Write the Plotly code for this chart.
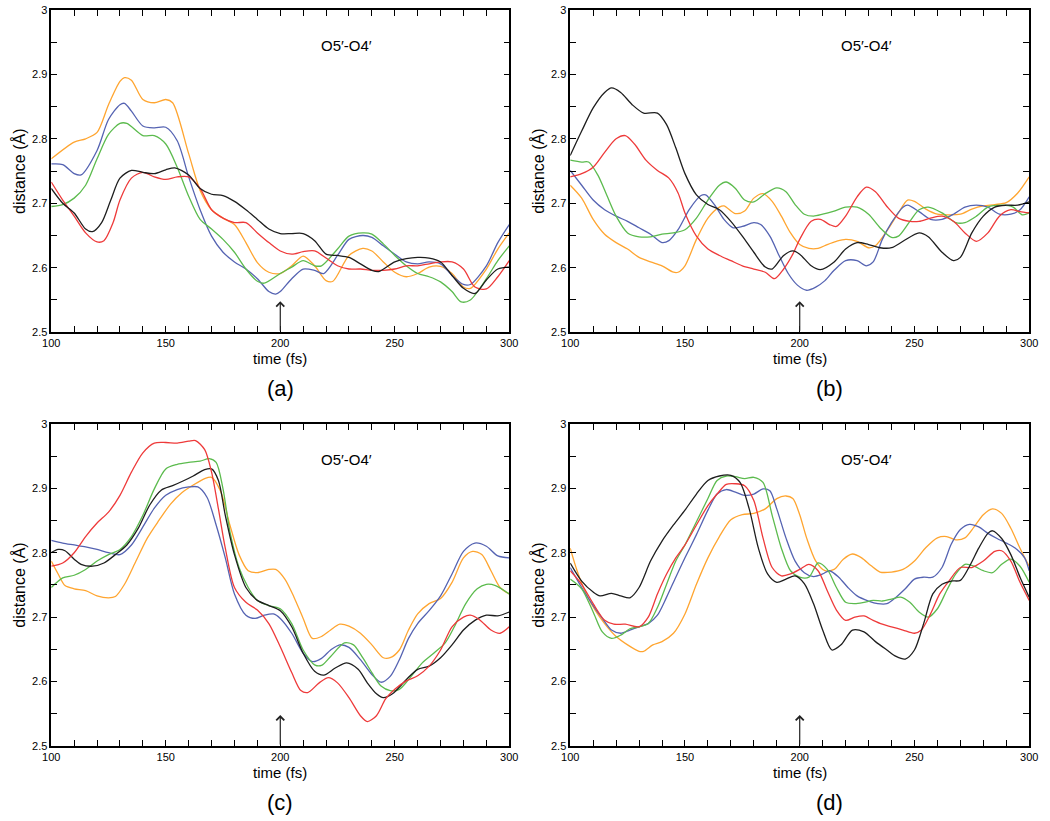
import plotly.graph_objects as go

# ---------------- data ----------------
# Panel (a)
a_orange_x = [100,110,115,120,125,130,132,135,140,145,150,153,160,165,170,175,180,185,190,195,200,205,210,215,220,223,230,236,240,245,250,255,260,265,270,275,280,283,290,295,300]
a_orange_y = [2.769,2.795,2.80,2.81,2.853,2.889,2.895,2.891,2.861,2.856,2.861,2.856,2.777,2.72,2.69,2.677,2.667,2.639,2.608,2.593,2.591,2.603,2.618,2.603,2.58,2.579,2.619,2.63,2.626,2.609,2.593,2.586,2.591,2.601,2.602,2.591,2.57,2.568,2.598,2.629,2.654]
a_blue_x = [100,105,110,113,120,125,130,132,135,140,145,150,155,160,165,170,175,180,185,190,195,198,200,205,210,215,219,225,230,236,240,245,250,255,260,265,270,275,280,283,290,295,300]
a_blue_y = [2.761,2.76,2.746,2.744,2.782,2.83,2.853,2.855,2.843,2.82,2.817,2.818,2.797,2.741,2.69,2.649,2.624,2.609,2.598,2.583,2.563,2.559,2.563,2.583,2.598,2.596,2.591,2.619,2.644,2.65,2.647,2.634,2.621,2.609,2.606,2.609,2.606,2.588,2.574,2.574,2.603,2.639,2.667]
a_green_x = [100,105,110,115,120,125,130,133,140,145,150,155,160,165,170,175,180,185,190,193,200,205,210,215,218,225,230,236,240,245,250,255,260,265,270,275,279,283,290,295,300]
a_green_y = [2.695,2.698,2.708,2.728,2.769,2.807,2.824,2.824,2.805,2.805,2.792,2.756,2.711,2.675,2.66,2.644,2.624,2.598,2.579,2.576,2.591,2.601,2.611,2.603,2.603,2.629,2.649,2.654,2.652,2.637,2.619,2.603,2.591,2.586,2.578,2.563,2.547,2.55,2.583,2.611,2.634]
a_black_x = [100,105,110,115,118,122,126,130,135,140,145,150,154,160,165,170,175,180,185,190,195,200,205,210,215,220,225,230,235,240,243,250,255,260,265,270,275,280,285,290,295,300]
a_black_y = [2.723,2.70,2.685,2.66,2.656,2.67,2.705,2.739,2.751,2.748,2.746,2.752,2.755,2.744,2.723,2.714,2.712,2.703,2.69,2.675,2.66,2.653,2.653,2.653,2.642,2.621,2.619,2.616,2.606,2.596,2.594,2.609,2.614,2.616,2.615,2.609,2.588,2.568,2.56,2.581,2.598,2.601]
a_red_x = [100,105,110,115,120,123,127,130,135,140,145,150,155,160,165,170,175,180,185,190,195,200,205,210,215,220,225,230,235,240,245,250,255,260,265,270,275,280,285,290,295,300]
a_red_y = [2.733,2.705,2.68,2.654,2.64,2.642,2.67,2.705,2.739,2.748,2.741,2.737,2.741,2.741,2.723,2.69,2.677,2.67,2.67,2.654,2.639,2.626,2.621,2.625,2.626,2.615,2.603,2.598,2.598,2.596,2.596,2.598,2.603,2.603,2.606,2.609,2.609,2.598,2.57,2.567,2.586,2.611]

# Panel (b)
b_black_x = [100,105,110,115,118,122,127,132,138,142,146,150,155,160,165,170,175,180,185,188,193,197,200,205,209,215,220,225,230,235,240,245,252,256,262,267,270,275,280,285,290,295,300]
b_black_y = [2.774,2.812,2.848,2.872,2.879,2.872,2.853,2.84,2.84,2.822,2.786,2.746,2.713,2.698,2.69,2.672,2.649,2.624,2.601,2.598,2.619,2.626,2.621,2.603,2.597,2.609,2.629,2.639,2.636,2.631,2.631,2.641,2.654,2.648,2.624,2.611,2.616,2.654,2.68,2.694,2.697,2.697,2.702]
b_red_x = [100,105,110,115,120,124,128,133,138,143,147,150,155,160,165,170,175,180,185,189,193,197,200,205,209,213,216,220,225,229,233,238,243,248,252,257,262,267,272,277,282,287,292,296,300]
b_red_y = [2.741,2.746,2.756,2.779,2.80,2.805,2.792,2.767,2.751,2.739,2.716,2.685,2.649,2.629,2.619,2.611,2.603,2.598,2.593,2.583,2.598,2.621,2.644,2.672,2.675,2.667,2.664,2.68,2.71,2.725,2.718,2.695,2.677,2.672,2.672,2.677,2.68,2.672,2.654,2.641,2.654,2.68,2.69,2.687,2.685]
b_green_x = [100,105,108,112,116,120,125,130,135,140,145,150,155,160,165,168,172,176,180,185,190,194,198,202,206,210,215,220,225,230,235,240,243,248,252,256,262,268,272,277,282,288,293,297,300]
b_green_y = [2.767,2.764,2.764,2.744,2.712,2.68,2.654,2.648,2.648,2.652,2.654,2.659,2.677,2.705,2.728,2.733,2.723,2.705,2.702,2.715,2.724,2.718,2.698,2.683,2.68,2.683,2.688,2.694,2.694,2.683,2.662,2.647,2.649,2.672,2.69,2.694,2.685,2.67,2.67,2.68,2.694,2.697,2.694,2.682,2.685]
b_blue_x = [100,105,110,115,120,125,130,135,140,143,147,152,157,159,163,167,171,175,180,183,187,191,195,199,203,207,211,215,220,225,229,232,236,240,245,247,252,257,262,267,272,277,282,287,292,296,300]
b_blue_y = [2.751,2.728,2.705,2.69,2.68,2.672,2.662,2.652,2.639,2.642,2.659,2.691,2.712,2.713,2.697,2.675,2.662,2.664,2.67,2.667,2.649,2.619,2.591,2.573,2.565,2.57,2.58,2.596,2.611,2.611,2.603,2.609,2.644,2.67,2.694,2.697,2.687,2.675,2.675,2.683,2.694,2.697,2.694,2.683,2.683,2.69,2.71]
b_orange_x = [100,105,110,115,120,125,130,135,140,145,147,150,155,160,165,167,172,176,180,184,188,192,196,200,204,208,212,216,220,225,230,233,238,243,247,250,255,260,265,270,275,280,285,290,295,300]
b_orange_y = [2.728,2.708,2.675,2.652,2.639,2.629,2.616,2.609,2.603,2.593,2.593,2.603,2.644,2.677,2.694,2.696,2.684,2.688,2.708,2.715,2.703,2.68,2.654,2.636,2.63,2.63,2.636,2.641,2.644,2.641,2.631,2.634,2.657,2.685,2.705,2.703,2.691,2.683,2.682,2.683,2.691,2.696,2.698,2.701,2.716,2.741]

# Panel (c)
c_red_x = [100,105,110,115,120,125,130,135,140,145,150,155,160,163,167,170,173,176,180,185,190,195,200,205,209,212,217,221,225,230,235,238,242,246,250,255,260,265,270,275,280,283,287,292,296,300]
c_red_y = [2.779,2.784,2.80,2.825,2.846,2.863,2.889,2.925,2.955,2.97,2.971,2.97,2.973,2.974,2.96,2.925,2.868,2.807,2.746,2.723,2.711,2.69,2.654,2.614,2.586,2.583,2.598,2.606,2.598,2.575,2.547,2.538,2.547,2.573,2.588,2.601,2.609,2.624,2.649,2.685,2.70,2.703,2.696,2.68,2.675,2.685]
c_green_x = [100,105,110,115,120,125,130,135,140,145,150,155,160,165,169,172,175,178,182,186,190,195,200,205,210,215,218,222,228,232,236,240,244,248,252,256,262,267,272,276,281,286,290,294,300]
c_green_y = [2.746,2.761,2.765,2.774,2.787,2.797,2.805,2.825,2.858,2.899,2.93,2.937,2.94,2.942,2.946,2.94,2.899,2.833,2.777,2.746,2.726,2.718,2.713,2.69,2.649,2.626,2.625,2.639,2.66,2.657,2.637,2.614,2.593,2.586,2.588,2.603,2.629,2.644,2.66,2.685,2.721,2.744,2.751,2.749,2.736]
c_black_x = [100,103,106,110,113,118,123,128,133,138,143,148,153,158,162,167,170,173,176,180,185,190,195,200,205,210,215,219,224,229,234,238,242,245,249,255,260,265,270,275,280,285,290,295,300]
c_black_y = [2.80,2.805,2.803,2.79,2.782,2.779,2.784,2.797,2.812,2.838,2.874,2.897,2.904,2.912,2.919,2.929,2.93,2.912,2.858,2.797,2.746,2.726,2.718,2.71,2.685,2.644,2.616,2.61,2.621,2.629,2.619,2.598,2.581,2.575,2.581,2.603,2.619,2.624,2.637,2.657,2.68,2.695,2.703,2.702,2.708]
c_blue_x = [100,105,110,115,120,125,130,135,140,145,150,155,160,164,168,172,176,180,185,189,193,197,200,205,210,214,218,222,226,230,235,240,244,248,252,256,260,265,270,275,280,285,290,295,300]
c_blue_y = [2.819,2.815,2.812,2.809,2.805,2.80,2.797,2.812,2.84,2.869,2.889,2.898,2.902,2.902,2.886,2.843,2.792,2.736,2.703,2.698,2.703,2.705,2.698,2.675,2.644,2.631,2.636,2.649,2.657,2.653,2.634,2.611,2.599,2.608,2.634,2.667,2.69,2.71,2.733,2.767,2.802,2.815,2.81,2.795,2.792]
c_orange_x = [100,103,106,110,115,120,125,128,132,137,142,147,152,157,162,167,170,174,178,182,186,190,195,198,202,206,210,214,218,222,226,230,235,240,245,248,252,256,260,265,270,275,280,284,288,292,296,300]
c_orange_y = [2.787,2.767,2.749,2.744,2.741,2.733,2.73,2.732,2.751,2.787,2.823,2.85,2.875,2.893,2.905,2.915,2.917,2.895,2.843,2.797,2.772,2.769,2.774,2.774,2.759,2.731,2.698,2.667,2.67,2.68,2.689,2.686,2.675,2.657,2.637,2.637,2.649,2.68,2.705,2.721,2.729,2.754,2.792,2.802,2.797,2.772,2.746,2.736]

# Panel (d)
d_black_x = [100,105,110,113,118,122,126,130,135,140,145,150,155,160,165,170,174,178,182,186,190,194,198,202,206,210,214,218,223,228,233,238,242,246,250,254,258,262,266,270,274,278,282,284,288,292,296,300]
d_black_y = [2.784,2.756,2.739,2.733,2.737,2.733,2.73,2.746,2.787,2.818,2.843,2.866,2.891,2.912,2.919,2.92,2.909,2.868,2.807,2.767,2.754,2.759,2.764,2.752,2.721,2.68,2.649,2.657,2.68,2.677,2.662,2.649,2.639,2.635,2.649,2.69,2.736,2.751,2.756,2.757,2.779,2.807,2.83,2.834,2.822,2.797,2.762,2.731]
d_red_x = [100,105,110,115,119,124,130,134,138,142,146,150,155,160,164,168,172,176,180,184,188,192,196,200,204,208,212,216,220,224,228,232,236,240,245,250,253,257,261,265,270,275,280,285,288,292,296,300]
d_red_y = [2.772,2.751,2.721,2.695,2.689,2.689,2.685,2.70,2.736,2.767,2.792,2.812,2.843,2.873,2.891,2.906,2.907,2.904,2.881,2.823,2.777,2.764,2.767,2.774,2.782,2.772,2.741,2.711,2.695,2.70,2.702,2.695,2.689,2.685,2.68,2.675,2.68,2.705,2.736,2.756,2.777,2.777,2.787,2.802,2.803,2.787,2.754,2.726]
d_green_x = [100,105,110,114,118,122,126,130,134,138,142,146,150,155,160,164,168,172,176,180,184,188,192,196,200,204,208,212,216,220,224,228,232,236,240,244,248,252,256,260,264,268,272,276,280,284,288,292,296,300]
d_green_y = [2.759,2.744,2.708,2.677,2.667,2.672,2.682,2.685,2.69,2.715,2.751,2.787,2.812,2.848,2.884,2.912,2.919,2.918,2.915,2.917,2.909,2.858,2.807,2.772,2.762,2.762,2.784,2.774,2.746,2.723,2.721,2.723,2.726,2.725,2.728,2.731,2.723,2.708,2.70,2.713,2.741,2.767,2.782,2.779,2.772,2.769,2.782,2.79,2.779,2.754]
d_blue_x = [100,105,110,114,118,122,126,130,134,138,142,146,150,155,160,164,168,172,176,180,184,187,190,194,198,202,206,210,213,217,221,225,230,234,238,242,246,250,254,258,262,266,270,274,278,282,286,290,294,298,300]
d_blue_y = [2.777,2.746,2.718,2.698,2.68,2.675,2.68,2.685,2.69,2.703,2.731,2.762,2.792,2.828,2.866,2.891,2.898,2.894,2.889,2.891,2.899,2.896,2.868,2.823,2.787,2.769,2.763,2.767,2.772,2.762,2.746,2.733,2.725,2.721,2.721,2.731,2.744,2.759,2.762,2.762,2.777,2.813,2.836,2.844,2.84,2.83,2.822,2.815,2.807,2.792,2.772]
d_orange_x = [100,103,107,111,115,120,125,130,132,136,140,145,150,155,160,165,170,175,180,185,190,194,197,200,203,207,211,215,219,223,227,231,235,240,245,250,255,260,264,268,272,276,280,284,288,292,296,300]
d_orange_y = [2.807,2.772,2.736,2.71,2.69,2.67,2.657,2.647,2.647,2.657,2.662,2.675,2.705,2.751,2.792,2.825,2.851,2.859,2.861,2.868,2.884,2.888,2.884,2.859,2.823,2.787,2.772,2.774,2.79,2.798,2.792,2.78,2.77,2.77,2.774,2.787,2.808,2.823,2.825,2.82,2.823,2.84,2.859,2.868,2.861,2.838,2.807,2.779]

panel_letters = ["(a)", "(b)", "(c)", "(d)"]
bond_label = "O5′-O4′"
bond_label_pos = (229, 2.945)
x_title = "time (fs)"
y_title = "distance (Å)"
x_tick_values = list(range(100, 301, 10))
x_tick_labels = [str(v) if v % 50 == 0 else "" for v in x_tick_values]
y_tick_values = [2.5, 2.55, 2.6, 2.65, 2.7, 2.75, 2.8, 2.85, 2.9, 2.95, 3.0]
y_tick_labels = ["2.5", "", "2.6", "", "2.7", "", "2.8", "", "2.9", "", "3"]
event_time = 200

COLORS = {"orange": "#FFA530", "blue": "#5563B2", "green": "#5CBB4E",
          "black": "#1E1E1E", "red": "#EE3A3A"}

panels = [
    [("orange", a_orange_x, a_orange_y), ("blue", a_blue_x, a_blue_y), ("green", a_green_x, a_green_y),
     ("red", a_red_x, a_red_y), ("black", a_black_x, a_black_y)],
    [("orange", b_orange_x, b_orange_y), ("blue", b_blue_x, b_blue_y), ("green", b_green_x, b_green_y),
     ("red", b_red_x, b_red_y), ("black", b_black_x, b_black_y)],
    [("orange", c_orange_x, c_orange_y), ("blue", c_blue_x, c_blue_y), ("green", c_green_x, c_green_y),
     ("black", c_black_x, c_black_y), ("red", c_red_x, c_red_y)],
    [("orange", d_orange_x, d_orange_y), ("blue", d_blue_x, d_blue_y), ("green", d_green_x, d_green_y),
     ("red", d_red_x, d_red_y), ("black", d_black_x, d_black_y)],
]

W, H = 1050, 821
# plot-area boxes in window pixels (left, right, top, bottom)
boxes = [(43, 509, 4, 331), (571, 1038, 4, 331), (43, 509, 424, 751), (571, 1038, 424, 751)]
# horizontal offset (px) of the panel letter from the plot centre
letter_dx = [0, 30, 0, 30]

fig = go.Figure()
FONT = "Liberation Sans, Arial, sans-serif"
CENTER = dict(xanchor="center", yanchor="middle")

for i, (series, box) in enumerate(zip(panels, boxes)):
    n = "" if i == 0 else str(i + 1)
    xa, ya = "x" + n, "y" + n
    for color, xs, ys in series:
        fig.add_trace(go.Scatter(x=xs, y=ys, mode="lines", xaxis=xa, yaxis=ya,
                                 line=dict(color=COLORS[color], width=1.3, shape="spline", smoothing=0.8),
                                 showlegend=False, hoverinfo="skip"))
    l, r, t, b = box
    pw, ph = r - l, b - t
    axis_common = dict(showline=True, linecolor="black", linewidth=1.5, mirror="ticks",
                       ticks="inside", ticklen=6, tickwidth=1.3, tickcolor="black",
                       showgrid=False, zeroline=False,
                       tickfont=dict(family=FONT, size=11, color="black"))
    fig.update_layout(**{
        "xaxis" + n: dict(axis_common, domain=[l / W, r / W], range=[100, 300],
                          tickvals=x_tick_values, ticktext=x_tick_labels, anchor=ya),
        "yaxis" + n: dict(axis_common, domain=[1 - b / H, 1 - t / H], range=[2.5, 3.0],
                          tickvals=y_tick_values, ticktext=y_tick_labels, anchor=xa),
    })
    xd, yd = xa + " domain", ya + " domain"
    # axis titles (positioned relative to the plot area)
    fig.add_annotation(x=0.5, y=-27 / ph, xref=xd, yref=yd, text=x_title, showarrow=False,
                       font=dict(family=FONT, size=15, color="black"), **CENTER)
    fig.add_annotation(x=-33 / pw, y=0.5, xref=xd, yref=yd, text=y_title, textangle=-90,
                       showarrow=False, font=dict(family=FONT, size=16, color="black"), **CENTER)
    # panel letter
    fig.add_annotation(x=0.5 + letter_dx[i] / pw, y=-57 / ph, xref=xd, yref=yd, text=panel_letters[i],
                       showarrow=False, font=dict(family=FONT, size=22, color="black"), **CENTER)
    # bond label
    fig.add_annotation(x=bond_label_pos[0], y=bond_label_pos[1], xref=xa, yref=ya, text=bond_label,
                       showarrow=False, font=dict(family=FONT, size=15, color="black"), **CENTER)
    # arrow marking t = 200 fs
    fig.add_annotation(x=event_time, y=2.548, ax=event_time, ay=2.5, xref=xa, yref=ya,
                       axref=xa, ayref=ya, text="", showarrow=True, arrowhead=4,
                       arrowsize=1.3, arrowwidth=1.2, arrowcolor="#222")

fig.update_layout(width=W, height=H, margin=dict(l=0, r=0, t=0, b=0),
                  paper_bgcolor="white", plot_bgcolor="white", showlegend=False)

fig.write_html("out.html", config={"displayModeBar": False},
               post_script="document.body.style.margin='0';document.body.style.overflow='hidden';")
